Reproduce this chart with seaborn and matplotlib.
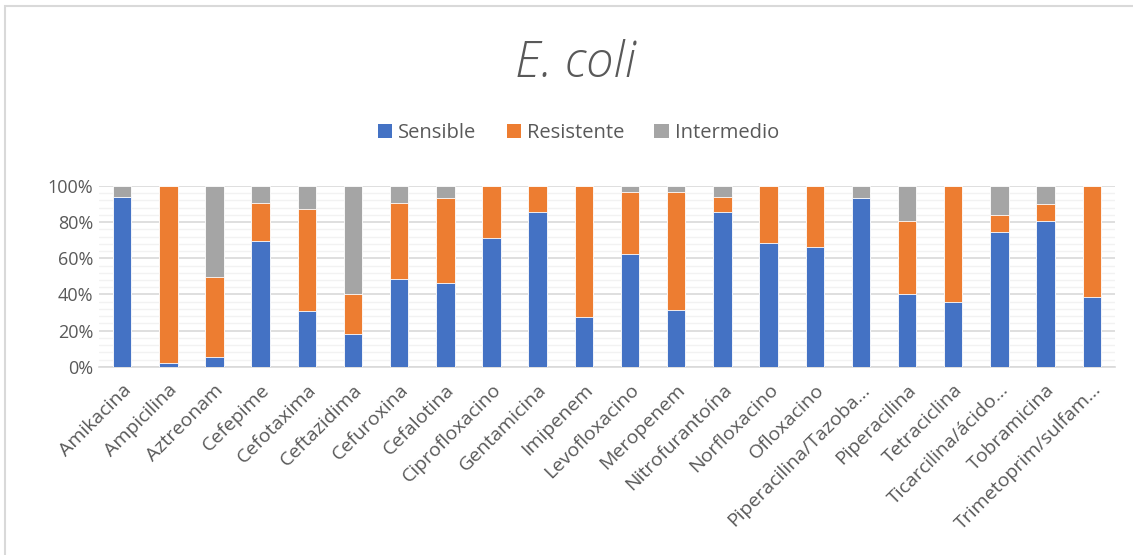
import matplotlib
matplotlib.use("Agg")
import matplotlib.pyplot as plt
import seaborn as sns
import numpy as np
import pandas as pd
from matplotlib.patches import Patch, Rectangle
from matplotlib.ticker import FuncFormatter, MultipleLocator

antibioticos = [
    "Amikacina", "Ampicilina", "Aztreonam", "Cefepime", "Cefotaxima",
    "Ceftazidima", "Cefuroxina", "Cefalotina", "Ciprofloxacino", "Gentamicina",
    "Imipenem", "Levofloxacino", "Meropenem", "Nitrofurantoína", "Norfloxacino",
    "Ofloxacino", "Piperacilina/Tazoba…", "Piperacilina", "Tetraciclina",
    "Ticarcilina/ácido…", "Tobramicina", "Trimetoprim/sulfam…",
]
sensible = [94.1, 2.2, 5.7, 69.4, 30.9, 18.4, 48.3, 46.4, 71.3, 85.8, 27.6,
            62.1, 31.7, 85.8, 68.5, 66.5, 93.4, 40.3, 35.9, 74.8, 80.8, 38.7]
resistente = [0.0, 97.8, 44.0, 21.2, 56.4, 21.9, 42.3, 47.2, 28.7, 14.2, 72.4,
              34.8, 65.0, 8.3, 31.5, 33.5, 0.0, 40.5, 64.1, 9.4, 9.4, 61.3]
intermedio = [5.9, 0.0, 50.3, 9.4, 12.7, 59.7, 9.4, 6.4, 0.0, 0.0, 0.0,
              3.1, 3.3, 5.9, 0.0, 0.0, 6.6, 19.2, 0.0, 15.8, 9.8, 0.0]
series = ["Sensible", "Resistente", "Intermedio"]
colores = ["#4472C4", "#ED7D31", "#A5A5A5"]

df = pd.DataFrame({"antibiotico": antibioticos, "Sensible": sensible,
                   "Resistente": resistente, "Intermedio": intermedio})
# cumulative tops, drawn from the back layer to the front one
df["top_Sensible"] = df["Sensible"]
df["top_Resistente"] = df["Sensible"] + df["Resistente"]
df["top_Intermedio"] = df["top_Resistente"] + df["Intermedio"]

sns.set_theme(style="white")
plt.rcParams["font.family"] = ["Open Sans", "DejaVu Sans"]
texto = "#595959"

fig = plt.figure(figsize=(11.33, 5.55), dpi=100)
ax = fig.add_axes([0.0874, 0.339, 0.8966, 0.326])

for serie, color in zip(series[::-1], colores[::-1]):
    sns.barplot(data=df, x="antibiotico", y="top_" + serie, color=color,
                width=0.4, edgecolor="white", linewidth=0.6, saturation=1,
                ax=ax, zorder=3)

ax.set_xlim(-0.5, len(antibioticos) - 0.5)
ax.set_ylim(0, 100)
ax.yaxis.set_major_locator(MultipleLocator(20))
ax.yaxis.set_minor_locator(MultipleLocator(4))
ax.yaxis.set_major_formatter(FuncFormatter(lambda v, p: f"{v:.0f}%"))
ax.grid(axis="y", which="major", color="#D9D9D9", linewidth=1.2, zorder=0)
ax.grid(axis="y", which="minor", color="#F2F2F2", linewidth=1.0, zorder=0)
ax.set_axisbelow(True)
for s in ["top", "right", "left"]:
    ax.spines[s].set_visible(False)
ax.spines["bottom"].set_color("#D9D9D9")
ax.spines["bottom"].set_linewidth(1.2)
ax.set_xlabel("")
ax.set_ylabel("")
ax.tick_params(axis="y", which="both", length=0, labelsize=13,
               labelcolor=texto, pad=4)
ax.tick_params(axis="x", length=0, labelsize=14, labelcolor=texto, pad=10)
ax.set_xticks(range(len(antibioticos)))
ax.set_xticklabels(antibioticos, rotation=45, ha="right",
                   rotation_mode="anchor")

fig.text(0.508, 0.886, "E. coli", ha="center", va="center", fontsize=35.5,
         style="italic", weight="light", color=texto)

handles = [Patch(facecolor=c, edgecolor="none", label=s)
           for s, c in zip(series, colores)]
fig.legend(handles=handles, loc="center", bbox_to_anchor=(0.5106, 0.76),
           ncol=3, frameon=False, fontsize=14.5, labelcolor=texto,
           handlelength=0.7, handleheight=0.7, handletextpad=0.3,
           columnspacing=1.5)

# chart frame
fig.patches.append(Rectangle((5 / 1133, -0.1), 1.2, 1 - 6 / 555 + 0.1,
                             transform=fig.transFigure, fill=False,
                             edgecolor="#D9D9D9", linewidth=1.5))

fig.savefig("out.png", dpi=100, facecolor="white")
